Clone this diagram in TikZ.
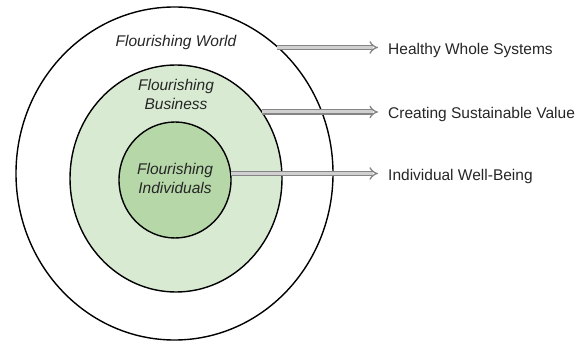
\documentclass[tikz,border=0pt]{standalone}
\usepackage{fontspec}
\setmainfont{Liberation Sans}
\usetikzlibrary{shapes.geometric,arrows.meta}
\definecolor{ringmid}{HTML}{D9EAD3}
\definecolor{ringin}{HTML}{B6D7A8}
\definecolor{inkgray}{HTML}{262626}
\definecolor{shaftedge}{HTML}{858585}
\definecolor{shaftfill}{HTML}{D0D0D0}
\begin{document}
\begin{tikzpicture}[x=1pt,y=1pt,
  ring/.style={ellipse,draw=black,line width=1.4pt,inner sep=0pt},
  ringlabel/.style={font=\fontsize{15.5}{19}\selectfont\itshape,text=inkgray,align=center,inner sep=0pt},
  sidelabel/.style={font=\fontsize{15.5}{19}\selectfont,text=inkgray,anchor=base west,inner sep=0pt},
  dblarrow/.style={draw=shaftedge,line width=1.3pt,double=shaftfill,double distance=3pt,
    -{Implies[length=6pt]},shorten >=10pt}]
  \useasboundingbox (0,0) rectangle (585,342);

  % three nested rings (y measured upward from the bottom edge)
  \node[ring,fill=white,minimum width=317pt,minimum height=333pt] (world) at (174.5,168.5) {};
  \node[ring,fill=ringmid,minimum width=212pt,minimum height=227pt] (business) at (176,163.5) {};
  \node[ring,fill=ringin,minimum width=112pt,minimum height=116pt] (people) at (175,162) {};

  % ring titles
  \node[ringlabel,anchor=base] (tworld) at (176,295.5) {Flourishing World};
  \node[ringlabel] (tbusiness) at (176,247.5) {Flourishing\\Business};
  \node[ringlabel] (tpeople) at (175,164) {Flourishing\\Individuals};

  % outcome labels
  \node[sidelabel] (oworld) at (388,287) {Healthy Whole Systems};
  \node[sidelabel] (obusiness) at (388,223.5) {Creating Sustainable Value};
  \node[sidelabel] (opeople) at (388,161.5) {Individual Well-Being};

  % arrows leave each ring where its edge meets the arrow's height
  \coordinate (sworld) at (276.5,294.5);
  \coordinate (sbusiness) at (262,230);
  \coordinate (speople) at (230.5,168.5);
  \draw[dblarrow] (sworld) -- (sworld -| oworld.west);
  \draw[dblarrow] (sbusiness) -- (sbusiness -| obusiness.west);
  \draw[dblarrow] (speople) -- (speople -| opeople.west);
\end{tikzpicture}
\end{document}
